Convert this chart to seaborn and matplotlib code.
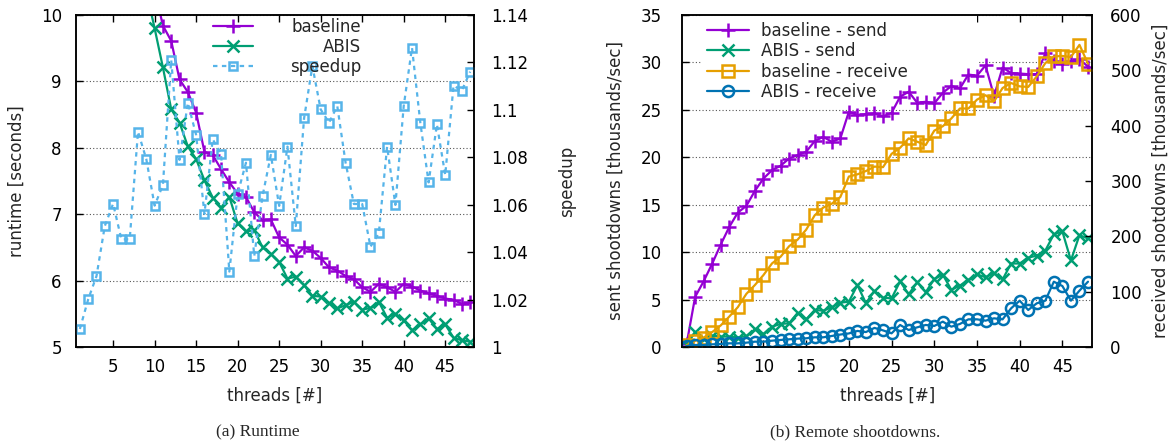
import matplotlib
matplotlib.use("Agg")
import matplotlib.pyplot as plt
import seaborn as sns

sns.set_theme(style="ticks")
plt.rcParams["font.family"] = ["DejaVu Sans"]
plt.rcParams["font.size"] = 12
plt.rcParams["axes.linewidth"] = 1.1

PURPLE = "#9400D3"
GREEN = "#009E73"
LIGHTBLUE = "#56B4E9"
ORANGE = "#E69F00"
BLUE = "#0072B2"

threads = list(range(1, 49))

# (a) runtime in seconds, speedup = baseline / ABIS
baseline_runtime = [90.0, 45.6, 30.8, 23.4, 18.9, 15.9, 13.8, 12.3, 11.18, 10.38,
                    9.84, 9.61, 9.03, 8.84, 8.53, 7.94, 7.89, 7.68, 7.48, 7.31,
                    7.26, 7.03, 6.91, 6.92, 6.65, 6.54, 6.37, 6.50, 6.45, 6.34,
                    6.20, 6.15, 6.07, 6.02, 5.90, 5.83, 5.95, 5.90, 5.83, 5.95,
                    5.91, 5.85, 5.81, 5.77, 5.73, 5.71, 5.65, 5.67]
abis_runtime = [89.3, 44.7, 29.9, 22.3, 17.8, 15.2, 13.2, 11.28, 10.36, 9.80,
                9.21, 8.58, 8.38, 8.02, 7.83, 7.51, 7.25, 7.10, 7.26, 6.86,
                6.74, 6.76, 6.50, 6.40, 6.28, 6.03, 6.06, 5.93, 5.77, 5.76,
                5.66, 5.58, 5.63, 5.68, 5.56, 5.59, 5.68, 5.44, 5.50, 5.40,
                5.25, 5.34, 5.43, 5.27, 5.34, 5.14, 5.10, 5.08]
speedup = [1.0076, 1.0201, 1.0299, 1.051, 1.0604, 1.0454, 1.0454, 1.0908, 1.0792, 1.0596,
           1.0683, 1.121, 1.0789, 1.103, 1.0894, 1.0561, 1.0876, 1.0814, 1.0318, 1.0645,
           1.0777, 1.0384, 1.0637, 1.081, 1.0595, 1.0845, 1.051, 1.0964, 1.1185, 1.1002,
           1.0946, 1.1016, 1.0777, 1.0603, 1.0603, 1.0423, 1.0479, 1.0845, 1.0599, 1.1016,
           1.1262, 1.0946, 1.0694, 1.0939, 1.0725, 1.1102, 1.1081, 1.1161]

# (b) remote shootdowns, thousands/sec
baseline_send = [0.3, 5.28, 6.93, 8.79, 10.8, 12.66, 14.17, 14.88, 16.46, 17.76,
                 18.64, 19.10, 19.87, 20.22, 20.58, 21.70, 22.16, 21.63, 21.98, 24.80,
                 24.45, 24.55, 24.62, 24.30, 24.69, 26.38, 26.91, 25.75, 25.85, 25.68,
                 26.80, 27.51, 27.26, 28.72, 28.60, 29.68, 26.45, 29.46, 28.88, 28.83,
                 28.76, 28.76, 30.95, 30.20, 29.85, 30.10, 30.35, 29.55]
abis_send = [0.2, 1.6, 0.8, 1.2, 1.1, 1.1, 1.0, 1.15, 1.86, 1.37,
             2.14, 2.43, 2.5, 3.6, 2.92, 3.9, 3.83, 4.18, 4.67, 4.78,
             6.52, 4.62, 5.92, 5.2, 5.12, 6.92, 5.55, 6.82, 5.77, 7.17,
             7.62, 6.03, 6.47, 7.08, 7.66, 7.35, 7.79, 7.12, 8.8, 8.8,
             9.42, 9.63, 10.16, 11.88, 12.18, 9.12, 11.79, 11.44]
baseline_recv = [3, 11, 17, 27, 39, 55, 72, 96, 112, 130,
                 151, 163, 182, 194, 212, 238, 252, 259, 271, 308,
                 312, 318, 326, 325, 349, 360, 377, 371, 365, 391,
                 399, 413, 431, 431, 447, 455, 444, 468, 477, 471,
                 470, 489, 513, 525, 526, 524, 546, 512]
abis_recv = [1.8, 3.6, 3.6, 4.8, 5.4, 6.6, 6.6, 7.8, 9.6, 9.6,
             11.4, 12.7, 13.9, 15.1, 15.7, 17.5, 17.5, 19.9, 22.5, 24.5,
             29.0, 27.0, 34.5, 30.0, 24.7, 39.8, 30.7, 35.5, 39.8, 38.0,
             45.8, 36.7, 41.6, 50.0, 50.0, 47.6, 51.8, 50.0, 69.9, 83.7,
             66.9, 78.9, 83.7, 118.0, 110.2, 83.7, 101.8, 118.0]

runtime_yticks = [5, 6, 7, 8, 9, 10]
speedup_yticks = [1.0, 1.02, 1.04, 1.06, 1.08, 1.10, 1.12, 1.14]
send_yticks = [0, 5, 10, 15, 20, 25, 30, 35]
recv_yticks = [0, 100, 200, 300, 400, 500, 600]
x_ticks = [5, 10, 15, 20, 25, 30, 35, 40, 45]

grid_kw = dict(linestyle=(0, (1, 2)), color="#555555", linewidth=0.8)
tick_kw = dict(direction="in", length=5, width=1, colors="black", labelsize=12)


def draw(ax, y, color, marker, label, ms=10, **extra):
    sns.lineplot(x=threads, y=y, ax=ax, color=color, marker=marker, markersize=ms,
                 markeredgecolor=color, markeredgewidth=1.8, linewidth=1.6,
                 label=label, legend=False, errorbar=None, **extra)


fig = plt.figure(figsize=(11.76, 4.46), dpi=100)

# ---------- (a) Runtime ----------
ax = fig.add_axes([0.0644, 0.2220, 0.3389, 0.7444])
draw(ax, baseline_runtime, PURPLE, "+", "baseline")
draw(ax, abis_runtime, GREEN, "x", "ABIS", ms=9)
ax.set_xlim(0.5, 48.5)
ax.set_ylim(5, 10)
ax.set_xticks(x_ticks)
ax.set_yticks(runtime_yticks)
ax.yaxis.grid(True, **grid_kw)
ax.tick_params(axis="both", top=True, **tick_kw)
ax.tick_params(axis="y", pad=10)
ax.tick_params(axis="x", pad=8)
ax.set_xlabel("threads [#]", fontsize=12)
ax.set_ylabel("runtime [seconds]", fontsize=12)
ax.xaxis.set_label_coords(0.5, -0.12)
ax.yaxis.set_label_coords(-0.125, 0.5)

ax2 = ax.twinx()
draw(ax2, speedup, LIGHTBLUE, "s", "speedup", ms=6, markerfacecolor="none",
     linestyle=(0, (2, 2)))
ax2.set_ylim(1.0, 1.14)
ax2.set_yticks(speedup_yticks)
ax2.set_yticklabels([f"{v:g}" for v in speedup_yticks])
ax2.tick_params(axis="y", pad=12, **tick_kw)
ax2.set_ylabel("speedup", fontsize=12)
ax2.yaxis.set_label_coords(1.21, 0.5)
ax2.set_xlim(0.5, 48.5)

handles_a = ax.get_lines()[:2] + ax2.get_lines()[:1]
labels_a = ["baseline", "ABIS", "speedup"]
# samples on the left, labels right-justified (two stacked legends)
leg_samples = ax2.legend(handles_a, ["", "", ""], loc="upper left",
                         bbox_to_anchor=(0.3445, 0.99), frameon=False, borderpad=0,
                         borderaxespad=0, handlelength=2.4, handletextpad=0,
                         labelspacing=0.1, fontsize=12)
ax2.add_artist(leg_samples)
leg_text = ax2.legend(handles_a, labels_a, loc="upper right",
                      bbox_to_anchor=(0.716, 0.99), frameon=False, borderpad=0,
                      borderaxespad=0, handlelength=0, handletextpad=0,
                      markerfirst=False, labelspacing=0.1, fontsize=12)
for h in leg_text.legend_handles:
    h.set_visible(False)

# ---------- (b) Remote shootdowns ----------
bx = fig.add_axes([0.5802, 0.2220, 0.3486, 0.7444])
draw(bx, baseline_send, PURPLE, "+", "baseline - send")
draw(bx, abis_send, GREEN, "x", "ABIS - send", ms=9)
bx.set_xlim(0.5, 48.5)
bx.set_ylim(0, 35)
bx.set_xticks(x_ticks)
bx.set_yticks(send_yticks)
bx.yaxis.grid(True, **grid_kw)
bx.tick_params(axis="both", top=True, **tick_kw)
bx.tick_params(axis="y", pad=15)
bx.tick_params(axis="x", pad=8)
bx.set_xlabel("threads [#]", fontsize=12)
bx.set_ylabel("sent shootdowns [thousands/sec]", fontsize=12)
bx.xaxis.set_label_coords(0.5, -0.12)
bx.yaxis.set_label_coords(-0.14, 0.5)

bx2 = bx.twinx()
draw(bx2, baseline_recv, ORANGE, "s", "baseline - receive", ms=9, markerfacecolor="none")
draw(bx2, abis_recv, BLUE, "o", "ABIS - receive", ms=8, markerfacecolor="none")
bx2.set_ylim(0, 600)
bx2.set_yticks(recv_yticks)
bx2.tick_params(axis="y", pad=13, **tick_kw)
bx2.set_ylabel("received shootdowns [thousands/sec]", fontsize=12)
bx2.yaxis.set_label_coords(1.146, 0.5)
bx2.set_xlim(0.5, 48.5)

handles_b = bx.get_lines()[:2] + bx2.get_lines()[:2]
labels_b = ["baseline - send", "ABIS - send", "baseline - receive", "ABIS - receive"]
# key box hides the grid but stays under the curves
leg_b = bx.legend(handles_b, labels_b, loc="upper left",
                  bbox_to_anchor=(0.045, 0.0, 0.675, 1.0), mode="expand",
                  frameon=True, fancybox=False, facecolor="white", edgecolor="none",
                  framealpha=1, borderpad=0.4, borderaxespad=0, handlelength=2.5,
                  handletextpad=0.7, labelspacing=0.15, fontsize=12)
leg_b.set_zorder(1.5)

for a in (ax, ax2, bx, bx2):
    for s in a.spines.values():
        s.set_color("black")
        s.set_linewidth(1.1)

fig.text(258 / 1176, 1 - 432 / 446, "(a) Runtime", ha="center", va="center",
         family="Liberation Serif", fontsize=12.5)
fig.text(855 / 1176, 1 - 432 / 446, "(b) Remote shootdowns.", ha="center", va="center",
         family="Liberation Serif", fontsize=12.5)

fig.savefig("out.png", dpi=100)
plt.close(fig)
